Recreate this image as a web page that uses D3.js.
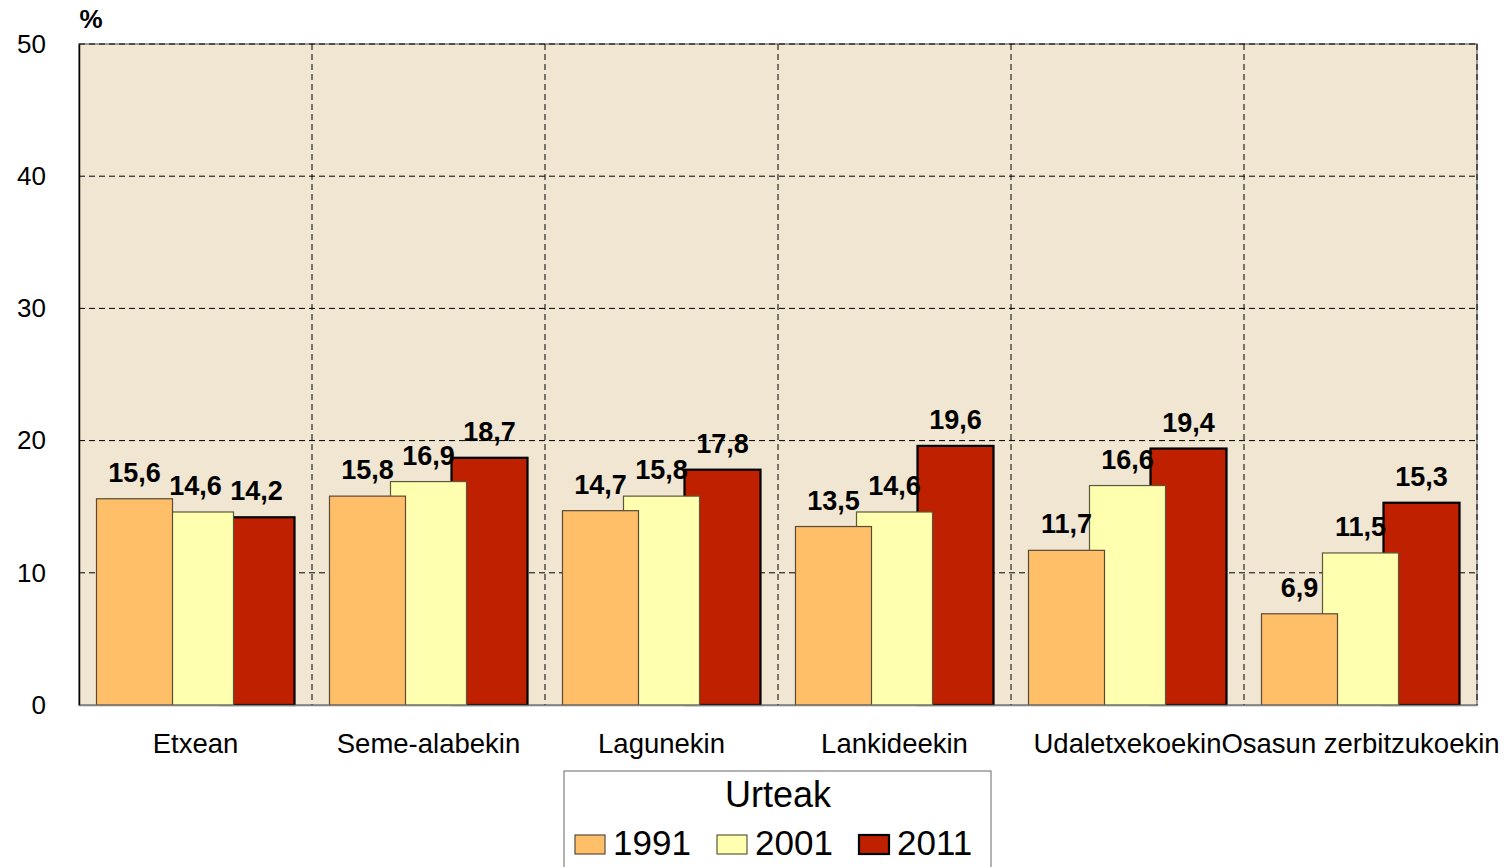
<!DOCTYPE html>
<html>
<head>
<meta charset="utf-8">
<script src="https://cdn.jsdelivr.net/npm/d3@7"></script>
<style>
  body { margin: 0; background: #fff; }
  text { font-family: Arial, "Liberation Sans", sans-serif; }
</style>
</head>
<body>
<svg id="chart" width="1508" height="867"></svg>
<script>
// data
var categories = ["Etxean", "Seme-alabekin", "Lagunekin", "Lankideekin", "Udaletxekoekin", "Osasun zerbitzukoekin"];
var years = ["1991", "2001", "2011"];
var v1991 = [15.6, 15.8, 14.7, 13.5, 11.7, 6.9];
var v2001 = [14.6, 16.9, 15.8, 14.6, 16.6, 11.5];
var v2011 = [14.2, 18.7, 17.8, 19.6, 19.4, 15.3];
var yTicks = [0, 10, 20, 30, 40, 50];

var series = [v1991, v2001, v2011];
var colors = ["#FFBF69", "#FFFFB0", "#BF2000"];
var strokes = ["#5a4a3a", "#5a5a3a", "#000"];
var strokeW = [1.2, 1.2, 2.2];

var svg = d3.select("#chart");
var margin = {top: 44, right: 31, bottom: 162, left: 79},
    width = 1508 - margin.left - margin.right,
    height = 867 - margin.top - margin.bottom;

var g = svg.append("g")
    .attr("transform", "translate(" + margin.left + "," + margin.top + ")");

var x = d3.scaleBand().domain(categories).range([0, width]).padding(0);
var y = d3.scaleLinear().domain([0, 50]).range([height, 0]);

var barW = 76, step = 61;

// plot background
g.append("rect")
  .attr("width", width).attr("height", height)
  .attr("fill", "#F0E6D2")
  .attr("stroke", "#808080")
  .attr("stroke-width", 1.5);

// horizontal grid
g.selectAll(".hgrid")
  .data(yTicks.filter(d => d > 0))
  .enter().append("line")
    .attr("x1", 0).attr("x2", width)
    .attr("y1", d => y(d)).attr("y2", d => y(d))
    .attr("stroke", "#000")
    .attr("stroke-width", 1)
    .attr("stroke-dasharray", "6,4");

// vertical grid
g.selectAll(".vgrid")
  .data(categories.slice(1).concat(["end"]))
  .enter().append("line")
    .attr("x1", (d, i) => x.step() * (i + 1)).attr("x2", (d, i) => x.step() * (i + 1))
    .attr("y1", 0).attr("y2", height)
    .attr("stroke", "#000")
    .attr("stroke-width", 1)
    .attr("stroke-dasharray", "6,4");

// bars - 2011 drawn first, 1991 on top
var barData = [];
[2, 1, 0].forEach(function(s) {
  categories.forEach(function(c, i) {
    barData.push({cat: c, s: s, value: series[s][i]});
  });
});

var barX = d => x(d.cat) + x.bandwidth() / 2 + (d.s - 1) * step - barW / 2;

g.selectAll(".bar")
  .data(barData)
  .enter().append("rect")
    .attr("x", barX)
    .attr("y", d => y(d.value))
    .attr("width", barW)
    .attr("height", d => height - y(d.value))
    .attr("fill", d => colors[d.s])
    .attr("stroke", d => strokes[d.s])
    .attr("stroke-width", d => strokeW[d.s]);

// value labels
g.selectAll(".lbl")
  .data(barData)
  .enter().append("text")
    .attr("x", d => barX(d) + barW / 2)
    .attr("y", d => y(d.value) - 17)
    .attr("text-anchor", "middle")
    .attr("font-size", "27px")
    .attr("font-weight", "bold")
    .text(d => d.value.toFixed(1).replace(".", ","));

// left axis
var yAxis = g.append("g")
  .call(d3.axisLeft(y).tickValues(yTicks).tickSize(0).tickPadding(33));
yAxis.select(".domain").attr("stroke", "#000").attr("stroke-width", 1.5);
yAxis.selectAll("text").attr("font-size", "26px").attr("font-family", "Arial, 'Liberation Sans', sans-serif");

// bottom axis
var xAxis = g.append("g")
  .attr("transform", "translate(0," + height + ")")
  .call(d3.axisBottom(x).tickSize(0).tickPadding(28));
xAxis.select(".domain").attr("stroke", "#808080").attr("stroke-width", 1.5);
xAxis.selectAll("text").attr("font-size", "27.5px").attr("font-family", "Arial, 'Liberation Sans', sans-serif");

// % unit
svg.append("text")
  .attr("x", 91).attr("y", 28)
  .attr("text-anchor", "middle")
  .attr("font-size", "26px")
  .attr("font-weight", "bold")
  .text("%");

// legend
var legend = svg.append("g").attr("transform", "translate(564,771)");
legend.append("rect")
  .attr("width", 427).attr("height", 110)
  .attr("fill", "#fff")
  .attr("stroke", "#808080")
  .attr("stroke-width", 1.2);
legend.append("text")
  .attr("x", 214).attr("y", 36)
  .attr("text-anchor", "middle")
  .attr("font-size", "36px")
  .text("Urteak");

var item = legend.selectAll(".item")
  .data(years)
  .enter().append("g")
    .attr("transform", (d, i) => "translate(" + (11 + i * 142) + ",64)");
item.append("rect")
  .attr("width", 30).attr("height", 19)
  .attr("fill", (d, i) => colors[i])
  .attr("stroke", (d, i) => strokes[i])
  .attr("stroke-width", (d, i) => strokeW[i]);
item.append("text")
  .attr("x", 38).attr("y", 20)
  .attr("font-size", "35px")
  .text(d => d);
</script>
</body>
</html>
